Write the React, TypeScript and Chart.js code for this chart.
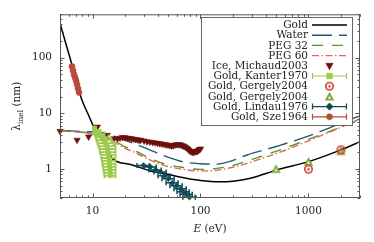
import React, { useEffect, useRef } from 'react';
import { Chart, registerables } from 'chart.js';
Chart.register(...registerables);

const FONT = '"DejaVu Serif", serif';
const FS = 10.5;

// ---- data ----
const goldE = [5, 5.6, 6.4, 7.1, 8.0, 9.2, 10.4, 12.8, 15.5, 22.5, 34.4, 50, 61, 100, 150, 200, 290, 513, 1000, 2000, 3000];
const goldL = [422, 193, 78, 36, 17.1, 9.2, 5.4, 2.9, 1.5, 1.2, 0.92, 0.8, 0.73, 0.62, 0.585, 0.6, 0.68, 0.96, 1.35, 2.2, 3.07];

const waterE = [5, 8, 12, 15, 19, 25, 33, 44, 68, 100, 140, 200, 270, 510, 1040, 2300, 3000];
const waterL = [4.95, 4.7, 4.5, 4.0, 3.4, 2.8, 2.25, 1.78, 1.35, 1.24, 1.22, 1.42, 1.78, 2.55, 4.0, 7.4, 9.0];

const pegE = [5, 10, 14.7, 20, 25, 34, 45, 65, 100, 130, 200, 290, 585, 1040, 1700, 3000];
const peg32L = [4.9, 4.3, 3.5, 2.5, 2.1, 1.55, 1.25, 1.08, 0.98, 1.0, 1.15, 1.45, 2.3, 3.5, 5.0, 7.6];
const peg60L = [4.85, 4.2, 3.3, 2.35, 1.95, 1.45, 1.17, 1.0, 0.92, 0.93, 1.07, 1.32, 2.1, 3.3, 4.9, 7.9];

const iceE = [5.0, 7.2, 9.2, 11.1, 13.7, 15.8, 17, 18, 19, 20, 21, 22, 23, 24, 25, 26, 27, 28, 30, 32, 34, 36, 38, 40, 42, 44, 46, 48, 50, 52, 54, 56, 58, 60, 62, 64, 66, 68, 70, 72, 74, 76, 78, 80, 82, 84, 86, 88, 90, 92, 94, 96, 98, 100];
const iceL = [4.77, 3.3, 3.77, 5.7, 4.05, 3.5, 3.45, 3.6, 3.7, 3.65, 3.6, 3.55, 3.5, 3.45, 3.4, 3.35, 3.3, 3.3, 3.2, 3.1, 3.05, 3.0, 2.95, 2.9, 2.85, 2.8, 2.78, 2.72, 2.7, 2.65, 2.6, 2.62, 2.7, 2.75, 2.72, 2.75, 2.7, 2.62, 2.58, 2.5, 2.4, 2.3, 2.2, 2.1, 2.05, 2.0, 2.0, 2.02, 2.08, 2.05, 2.1, 2.18, 2.22, 2.3];

const kanterE = [10.43, 11.01, 11.61, 12.24, 12.78, 13.19, 13.62, 13.77, 13.92, 14.06, 14.22, 14.22, 14.37, 14.37, 14.53, 14.53, 14.68];
const kanterL = [5.4, 4.77, 4.22, 3.73, 3.3, 2.91, 2.57, 2.28, 2.01, 1.78, 1.57, 1.39, 1.23, 1.09, 0.96, 0.85, 0.75];
const kanterLo = [10.11, 10.21, 10.43, 10.66, 10.89, 11.13, 11.36, 11.61, 11.73, 11.99, 12.11, 12.24, 12.38, 12.51, 12.64, 12.78, 12.92];
const kanterHi = [10.77, 11.86, 12.92, 14.06, 15.0, 15.64, 16.33, 16.33, 16.33, 16.33, 16.33, 16.33, 16.33, 16.33, 16.33, 16.33, 16.33];

const gerCircE = [1000, 2000];
const gerCircL = [0.99, 2.2];
const gerTriE = [500, 1000, 2000];
const gerTriL = [1.0, 1.35, 2.1];

const lindauE = [29.7, 34.4, 38.3, 42.6, 46.4, 50.5, 55.0, 59.9, 65.3, 69.6, 74.2, 79.1];
const lindauL = [1.155, 1.086, 0.96, 0.884, 0.75, 0.663, 0.562, 0.497, 0.439, 0.388, 0.35, 0.31];
const lindauErr = [3.9, 4.5, 5.0, 5.5, 6.0, 6.5, 7.0, 7.7, 8.5, 9.0, 9.6, 10.3];

const szeE = [6.46, 6.6, 6.74, 6.89, 7.04, 7.19, 7.34, 7.5];
const szeL = [69, 58.6, 49.7, 44, 38.8, 33, 27.9, 23.7];

const xTickVals = [5, 6, 7, 8, 9, 10, 20, 30, 40, 50, 60, 70, 80, 90, 100, 200, 300, 400, 500, 600, 700, 800, 900, 1000, 2000, 3000];
const xLabelVals = [10, 100, 1000];
const yTickVals = [0.3, 0.4, 0.5, 0.6, 0.7, 0.8, 0.9, 1, 2, 3, 4, 5, 6, 7, 8, 9, 10, 20, 30, 40, 50, 60, 70, 80, 90, 100, 200, 300, 400, 500, 600];
const yLabelVals = [1, 10, 100];

const C = {
  gold: '#000000',
  water: '#1e5b6b',
  peg32: '#5f8f1f',
  peg60: '#e06a5a',
  ice: '#6b100c',
  kanter: '#9ccb4c',
  gerC: '#d23a30',
  gerT: '#78a832',
  lindau: '#0f4a55',
  sze: '#b84a3c',
};

const pts = (xs: number[], ys: number[]) => xs.map((x, i) => ({ x, y: ys[i] }));

function makeCircle(color: string) {
  const c = document.createElement('canvas');
  c.width = 11; c.height = 11;
  const g = c.getContext('2d')!;
  g.strokeStyle = color; g.lineWidth = 1.6;
  g.beginPath(); g.arc(5.5, 5.5, 3.7, 0, Math.PI * 2); g.stroke();
  g.fillStyle = color;
  g.beginPath(); g.arc(5.5, 5.5, 1.2, 0, Math.PI * 2); g.fill();
  return c;
}
function makeTri(color: string) {
  const c = document.createElement('canvas');
  c.width = 11; c.height = 11;
  const g = c.getContext('2d')!;
  g.fillStyle = color;
  g.beginPath(); g.moveTo(5.5, 1); g.lineTo(10.2, 9.6); g.lineTo(0.8, 9.6); g.closePath(); g.fill();
  g.fillStyle = '#ffffff';
  g.beginPath(); g.moveTo(5.5, 4.9); g.lineTo(7.1, 7.8); g.lineTo(3.9, 7.8); g.closePath(); g.fill();
  return c;
}

function drawMarker(ctx: CanvasRenderingContext2D, ds: any, x: number, y: number) {
  const style = ds.pointStyle;
  const r = ds.pointRadius;
  if (style && typeof style === 'object') {
    ctx.drawImage(style, x - style.width / 2, y - style.height / 2);
    return;
  }
  ctx.save();
  ctx.fillStyle = ds.backgroundColor;
  ctx.strokeStyle = ds.borderColor;
  ctx.lineWidth = ds.borderWidth || 0.5;
  ctx.beginPath();
  if (style === 'triangle') {
    const down = ds.rotation === 180 ? -1 : 1;
    ctx.moveTo(x, y - down * r * 1.1);
    ctx.lineTo(x + r, y + down * r * 0.7);
    ctx.lineTo(x - r, y + down * r * 0.7);
    ctx.closePath();
  } else if (style === 'rect') {
    ctx.rect(x - r, y - r, 2 * r, 2 * r);
  } else if (style === 'rectRot') {
    ctx.moveTo(x, y - r * 1.3); ctx.lineTo(x + r * 1.3, y); ctx.lineTo(x, y + r * 1.3); ctx.lineTo(x - r * 1.3, y); ctx.closePath();
  } else {
    ctx.arc(x, y, r, 0, Math.PI * 2);
  }
  ctx.fill();
  ctx.stroke();
  ctx.restore();
}

const errorBarPlugin = {
  id: 'errbars',
  beforeDatasetDraw(chart: any, args: any) {
    const ds = chart.data.datasets[args.index];
    if (!ds.errLo) return;
    const { ctx } = chart;
    const xs = chart.scales.x, ys = chart.scales.y;
    ctx.save();
    ctx.strokeStyle = ds.borderColor;
    ctx.lineWidth = ds.errWidth || 1.2;
    ctx.beginPath();
    ds.data.forEach((p: any, i: number) => {
      if (ds.errHi[i] <= ds.errLo[i]) return;
      const y = ys.getPixelForValue(p.y);
      const x1 = xs.getPixelForValue(ds.errLo[i]);
      const x2 = xs.getPixelForValue(ds.errHi[i]);
      ctx.moveTo(x1, y); ctx.lineTo(x2, y);
      ctx.moveTo(x1, y - 2.5); ctx.lineTo(x1, y + 2.5);
      ctx.moveTo(x2, y - 2.5); ctx.lineTo(x2, y + 2.5);
    });
    ctx.stroke();
    ctx.restore();
  },
};

const framePlugin = {
  id: 'frame',
  afterDraw(chart: any) {
    const { ctx, chartArea: a } = chart;
    const xs = chart.scales.x, ys = chart.scales.y;
    ctx.save();
    ctx.strokeStyle = '#555';
    ctx.lineWidth = 1;
    ctx.beginPath();
    for (const v of xTickVals) {
      const px = Math.round(xs.getPixelForValue(v)) + 0.5;
      const len = xLabelVals.includes(v) ? 4.5 : 2.5;
      ctx.moveTo(px, a.bottom); ctx.lineTo(px, a.bottom - len);
      ctx.moveTo(px, a.top); ctx.lineTo(px, a.top + len);
    }
    for (const v of yTickVals) {
      const py = Math.round(ys.getPixelForValue(v)) + 0.5;
      const len = yLabelVals.includes(v) ? 4.5 : 2.5;
      ctx.moveTo(a.left, py); ctx.lineTo(a.left + len, py);
      ctx.moveTo(a.right, py); ctx.lineTo(a.right - len, py);
    }
    ctx.stroke();
    ctx.strokeRect(a.left + 0.5, a.top + 0.5, a.right - a.left - 1, a.bottom - a.top - 1);

    // axis titles
    ctx.fillStyle = '#222';
    ctx.textBaseline = 'alphabetic';
    const cx = (a.left + a.right) / 2;
    ctx.font = `italic ${FS}px ${FONT}`;
    const wE = ctx.measureText('E').width;
    ctx.font = `${FS}px ${FONT}`;
    const wRest = ctx.measureText(' (eV)').width;
    const x0 = cx - (wE + wRest) / 2;
    ctx.textAlign = 'left';
    ctx.font = `italic ${FS}px ${FONT}`;
    ctx.fillText('E', x0, 232);
    ctx.font = `${FS}px ${FONT}`;
    ctx.fillText(' (eV)', x0 + wE, 232);

    ctx.save();
    const cy = (a.top + a.bottom) / 2;
    ctx.translate(20, cy);
    ctx.rotate(-Math.PI / 2);
    ctx.font = `${FS}px ${FONT}`;
    const wL = ctx.measureText('λ').width;
    const wP = ctx.measureText(' (nm)').width;
    ctx.font = `${FS * 0.72}px ${FONT}`;
    const wS = ctx.measureText('inel').width;
    const t0 = -(wL + wS + wP) / 2;
    ctx.font = `${FS}px ${FONT}`;
    ctx.fillText('λ', t0, 0);
    ctx.font = `${FS * 0.72}px ${FONT}`;
    ctx.fillText('inel', t0 + wL, 2.5);
    ctx.font = `${FS}px ${FONT}`;
    ctx.fillText(' (nm)', t0 + wL + wS, 0);
    ctx.restore();

    // legend
    const lx0 = 201, ly0 = 17, lx1 = 352, ly1 = 125;
    ctx.fillStyle = '#fff';
    ctx.fillRect(lx0, ly0, lx1 - lx0, ly1 - ly0);
    ctx.strokeStyle = '#666';
    ctx.strokeRect(lx0 + 0.5, ly0 + 0.5, lx1 - lx0, ly1 - ly0);
    const sx0 = 312, sx1 = 347, smid = (sx0 + sx1) / 2;
    chart.data.datasets.forEach((ds: any, i: number) => {
      const y = 25 + i * 10.2;
      ctx.fillStyle = '#222';
      ctx.font = `${FS}px ${FONT}`;
      ctx.textAlign = 'right';
      ctx.textBaseline = 'middle';
      ctx.fillText(ds.label, 308, y + 0.5);
      if (ds.showLine) {
        ctx.save();
        ctx.strokeStyle = ds.borderColor;
        ctx.lineWidth = ds.borderWidth;
        ctx.setLineDash(ds.borderDash || []);
        ctx.beginPath(); ctx.moveTo(sx0, y); ctx.lineTo(sx1, y); ctx.stroke();
        ctx.restore();
      } else {
        if (ds.errLo) {
          ctx.save();
          ctx.strokeStyle = ds.borderColor;
          ctx.lineWidth = 1.2;
          ctx.beginPath();
          ctx.moveTo(sx0, y); ctx.lineTo(sx1, y);
          ctx.moveTo(sx0 + 0.5, y - 3); ctx.lineTo(sx0 + 0.5, y + 3);
          ctx.moveTo(sx1 - 0.5, y - 3); ctx.lineTo(sx1 - 0.5, y + 3);
          ctx.stroke();
          ctx.restore();
        }
        drawMarker(ctx, ds, smid, y);
      }
    });
    ctx.restore();
  },
};

export default function App() {
  const ref = useRef<HTMLCanvasElement>(null);
  useEffect(() => {
    const canvas = ref.current!;
    const circImg = makeCircle(C.gerC);
    const triImg = makeTri(C.gerT);
    const lineDs = (label: string, xs: number[], ys: number[], color: string, dash: number[], width: number, order: number) => ({
      label, data: pts(xs, ys), showLine: true, borderColor: color, backgroundColor: color,
      borderDash: dash, borderWidth: width, pointRadius: 0, cubicInterpolationMode: 'monotone', order,
    });
    const markDs = (label: string, xs: number[], ys: number[], color: string, style: any, r: number, order: number, extra: any = {}) => ({
      label, data: pts(xs, ys), showLine: false, borderColor: color, backgroundColor: color,
      pointStyle: style, pointRadius: r, borderWidth: 0.6, order, clip: 6, ...extra,
    });
    const chart = new Chart(canvas, {
      type: 'scatter',
      data: {
        datasets: [
          lineDs('Gold', goldE, goldL, C.gold, [], 1.5, 9),
          lineDs('Water', waterE, waterL, C.water, [20, 7], 1.4, 8),
          lineDs('PEG 32', pegE, peg32L, C.peg32, [11, 9], 1.4, 7),
          lineDs('PEG 60', pegE, peg60L, C.peg60, [7, 2.5, 1.5, 2.5], 1.4, 6),
          markDs('Ice, Michaud2003', iceE, iceL, C.ice, 'triangle', 3.6, 5, { rotation: 180 }),
          markDs('Gold, Kanter1970', kanterE, kanterL, C.kanter, 'rect', 2.8, 2, { errLo: kanterLo, errHi: kanterHi, errWidth: 1.8 }),
          markDs('Gold, Gergely2004', gerCircE, gerCircL, C.gerC, circImg, 4, 1),
          markDs('Gold, Gergely2004', gerTriE, gerTriL, C.gerT, triImg, 4, 1),
          markDs('Gold, Lindau1976', lindauE, lindauL, C.lindau, 'rectRot', 2.8, 3, {
            errLo: lindauE.map((e, i) => e - lindauErr[i]), errHi: lindauE.map((e, i) => e + lindauErr[i]), errWidth: 1.5,
          }),
          markDs('Gold, Sze1964', szeE, szeL, C.sze, 'circle', 3, 3, { errLo: szeE, errHi: szeE }),
        ] as any,
      },
      options: {
        animation: false,
        responsive: false,
        devicePixelRatio: 1,
        layout: { padding: { top: 13, right: 14, left: 0, bottom: 0 } },
        plugins: { legend: { display: false }, tooltip: { enabled: false } },
        scales: {
          x: {
            type: 'logarithmic', min: 5, max: 3000, position: 'bottom',
            grid: { display: false, drawTicks: false }, border: { display: false },
            afterBuildTicks: (s: any) => { s.ticks = xTickVals.map((v) => ({ value: v })); },
            afterFit: (s: any) => { s.height = 44; },
            ticks: {
              autoSkip: false, maxRotation: 0, padding: 7, color: '#222',
              font: { family: FONT, size: FS },
              callback: (v: any) => (xLabelVals.includes(Number(v)) ? String(v) : ''),
            },
          },
          y: {
            type: 'logarithmic', min: 0.3, max: 600, position: 'left',
            grid: { display: false, drawTicks: false }, border: { display: false },
            afterBuildTicks: (s: any) => { s.ticks = yTickVals.map((v) => ({ value: v })); },
            afterFit: (s: any) => { s.width = 60; },
            ticks: {
              autoSkip: false, padding: 8, color: '#222',
              font: { family: FONT, size: FS },
              callback: (v: any) => (yLabelVals.includes(Number(v)) ? String(v) : ''),
            },
          },
        },
      } as any,
      plugins: [errorBarPlugin, framePlugin],
    });
    return () => chart.destroy();
  }, []);
  return (
    <div style={{ position: 'fixed', left: 0, top: 0, width: 374, height: 242, background: '#fff' }}>
      <canvas ref={ref} width={374} height={242} style={{ display: 'block' }} />
    </div>
  );
}
